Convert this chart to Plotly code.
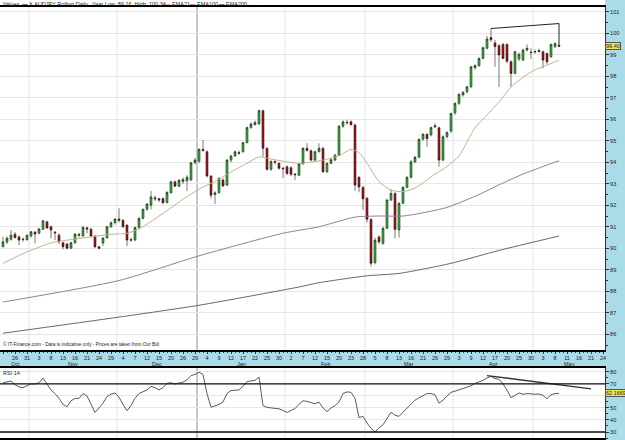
import pandas as pd
import plotly.graph_objects as go

# ---------------- data ----------------
HOLIDAYS = ["2006-12-25", "2007-01-01", "2007-04-06"]
days = [d.strftime("%Y-%m-%d") for d in pd.bdate_range("2006-10-23", "2007-05-24")]
days = [d for d in days if d not in HOLIDAYS]
pos = {d: i for i, d in enumerate(days)}

opens = [90.07, 90.29, 90.42, 90.65, 90.53, 90.40, 90.40, 90.57, 90.75, 90.70,
         90.88, 91.23, 91.00, 90.75, 90.61, 90.26, 90.20, 90.00, 90.26, 90.60,
         90.57, 90.95, 90.89, 90.57, 90.07, 90.25, 90.48, 91.00, 91.19, 91.36,
         91.30, 91.08, 90.40, 90.38, 90.97, 91.39, 91.81, 92.00, 92.35, 92.30,
         92.32, 92.12, 92.58, 93.09, 92.89, 93.10, 93.14, 93.17, 93.98, 94.05,
         94.60, 94.49, 93.36, 92.50, 92.58, 93.17, 92.94, 94.10, 94.29, 94.45,
         94.49, 94.91, 95.62, 95.75, 95.78, 96.40, 94.65, 93.67, 94.03, 93.95,
         93.72, 93.79, 93.75, 93.45, 93.40, 93.92, 94.65, 94.53, 94.10, 94.49,
         94.65, 93.56, 93.95, 94.10, 94.33, 95.68, 95.86, 95.88, 95.73, 93.30,
         92.83, 92.32, 91.34, 89.33, 90.53, 90.23, 90.93, 92.24, 92.55, 90.85,
         92.09, 92.83, 93.30, 94.02, 94.23, 95.07, 95.30, 95.27, 95.70, 95.60,
         94.10, 95.19, 95.45, 96.30, 96.74, 97.13, 97.28, 97.51, 98.40, 98.49,
         98.83, 99.30, 99.80, 99.55, 99.42, 99.48, 99.48, 98.67, 98.13, 98.80,
         98.75, 99.22, 99.12, 99.12, 99.20, 99.14, 99.06, 98.91, 99.37, 99.45]
highs = [90.53, 90.55, 90.85, 90.75, 90.60, 90.50, 90.65, 90.80, 90.80, 90.95,
         91.30, 91.28, 91.05, 90.80, 90.70, 90.30, 90.25, 90.30, 90.70, 90.70,
         91.05, 91.00, 90.95, 90.60, 90.10, 90.50, 91.05, 91.25, 91.40, 91.86,
         91.35, 91.10, 90.50, 91.00, 91.45, 91.85, 92.10, 92.67, 92.45, 92.35,
         92.35, 92.65, 93.15, 93.15, 93.20, 93.30, 93.40, 94.00, 94.20, 94.65,
         95.03, 94.55, 93.40, 92.65, 93.30, 93.25, 94.15, 94.35, 94.55, 94.55,
         94.95, 95.65, 95.85, 95.95, 96.45, 96.45, 94.70, 94.10, 94.10, 94.00,
         93.80, 93.85, 93.80, 93.50, 93.95, 94.70, 94.88, 94.60, 94.55, 94.88,
         94.70, 94.00, 94.20, 94.40, 95.72, 95.95, 95.98, 95.95, 95.80, 93.35,
         92.90, 92.40, 91.40, 90.50, 90.60, 91.00, 92.30, 92.74, 92.60, 92.15,
         92.90, 93.35, 94.10, 94.30, 95.10, 95.35, 95.35, 95.65, 95.81, 95.65,
         95.25, 95.45, 96.30, 96.80, 97.20, 97.30, 97.55, 98.48, 98.55, 98.88,
         99.38, 99.88, 100.22, 99.70, 99.50, 99.55, 99.52, 98.75, 99.20, 99.10,
         99.28, 99.48, 99.30, 99.25, 99.28, 99.20, 99.10, 99.52, 99.58, 99.50]
lows = [90.05, 90.20, 90.35, 90.45, 90.15, 90.30, 90.35, 90.50, 90.23, 90.65,
        90.85, 90.90, 90.46, 90.38, 90.20, 89.95, 89.95, 89.98, 90.20, 90.50,
        90.55, 90.70, 90.50, 90.00, 89.95, 90.10, 90.45, 90.95, 91.10, 91.20,
        90.95, 90.10, 90.30, 90.35, 90.90, 91.35, 91.75, 91.80, 92.20, 92.15,
        92.05, 92.10, 92.55, 92.85, 92.85, 93.00, 92.67, 93.15, 93.90, 93.95,
        94.50, 93.30, 92.32, 92.06, 92.55, 92.85, 92.90, 94.00, 94.25, 94.35,
        94.45, 94.88, 95.55, 95.70, 95.75, 94.26, 93.60, 93.60, 93.90, 93.65,
        93.27, 93.40, 93.35, 93.17, 93.35, 93.90, 94.50, 94.05, 94.05, 94.45,
        93.50, 93.50, 93.90, 94.05, 94.30, 95.60, 95.75, 95.70, 92.67, 92.60,
        91.78, 91.20, 89.16, 89.25, 90.20, 90.15, 90.90, 92.20, 90.46, 90.50,
        92.05, 92.80, 93.25, 93.95, 94.20, 95.00, 94.72, 95.20, 95.60, 93.79,
        94.05, 95.10, 95.35, 96.20, 96.65, 97.05, 97.20, 97.45, 98.30, 98.45,
        98.80, 99.25, 99.60, 98.44, 97.50, 98.80, 98.60, 97.50, 98.10, 98.70,
        98.70, 99.15, 98.80, 99.05, 99.10, 98.37, 98.55, 98.85, 99.30, 99.35]
closes = [90.30, 90.47, 90.61, 90.50, 90.38, 90.42, 90.60, 90.77, 90.66, 90.90,
          91.28, 90.94, 90.85, 90.72, 90.30, 90.07, 90.00, 90.26, 90.66, 90.65,
          90.97, 90.90, 90.57, 90.07, 90.00, 90.48, 91.00, 91.19, 91.36, 91.30,
          91.00, 90.38, 90.38, 90.97, 91.39, 91.81, 92.06, 92.39, 92.30, 92.25,
          92.12, 92.60, 93.09, 92.89, 93.17, 93.20, 93.30, 93.98, 94.10, 94.60,
          94.55, 93.36, 92.47, 92.58, 93.25, 92.90, 94.10, 94.29, 94.49, 94.42,
          94.91, 95.62, 95.78, 95.85, 96.40, 94.65, 93.67, 94.03, 94.00, 93.72,
          93.70, 93.48, 93.44, 93.42, 93.92, 94.65, 94.55, 94.10, 94.49, 94.65,
          93.56, 93.95, 94.12, 94.33, 95.68, 95.88, 95.84, 95.75, 92.94, 92.85,
          92.30, 91.35, 89.30, 90.38, 90.30, 90.93, 92.24, 92.55, 90.88, 92.09,
          92.83, 93.30, 94.02, 94.23, 95.07, 95.30, 95.10, 95.62, 95.65, 94.10,
          95.19, 95.38, 96.27, 96.74, 97.16, 97.25, 97.51, 98.44, 98.50, 98.83,
          99.33, 99.73, 99.70, 99.38, 98.99, 98.83, 98.70, 98.13, 99.14, 99.02,
          99.22, 99.30, 99.10, 99.15, 99.15, 98.75, 98.67, 99.48, 99.52, 99.40]

ema21_days = ["2006-10-23", "2006-10-30", "2006-11-08", "2006-11-20", "2006-11-29",
              "2006-12-05", "2006-12-08", "2006-12-19", "2006-12-27", "2007-01-03",
              "2007-01-08", "2007-01-12", "2007-01-18", "2007-01-23", "2007-01-26",
              "2007-02-06", "2007-02-14", "2007-02-20", "2007-02-23", "2007-02-27",
              "2007-03-01", "2007-03-06", "2007-03-09", "2007-03-14", "2007-03-19",
              "2007-03-21", "2007-03-26", "2007-03-29", "2007-04-03", "2007-04-10",
              "2007-04-13", "2007-04-18", "2007-04-23", "2007-04-26", "2007-05-01",
              "2007-05-04", "2007-05-09"]
ema21_vals = [89.3, 89.75, 90.25, 90.48, 90.65, 90.7, 90.9, 91.75, 92.4, 92.85,
              93.1, 93.55, 93.95, 94.25, 94.15, 93.95, 94.1, 94.3, 94.6, 94.45,
              93.95, 93.1, 92.7, 92.63, 92.8, 93.05, 93.45, 93.8, 94.3, 95.6,
              96.2, 96.8, 97.5, 97.95, 98.3, 98.52, 98.75]

ema100_days = ["2006-10-23", "2006-12-01", "2007-01-02", "2007-01-31", "2007-02-13",
               "2007-02-26", "2007-03-06", "2007-03-14", "2007-03-21", "2007-03-29",
               "2007-04-11", "2007-04-18", "2007-04-26", "2007-05-03", "2007-05-09"]
ema100_vals = [87.5, 88.5, 89.65, 90.7, 91.0, 91.45, 91.5, 91.5, 91.65, 91.9,
               92.5, 92.95, 93.45, 93.8, 94.07]

ema200_days = ["2006-10-23", "2006-12-01", "2007-01-02", "2007-02-06", "2007-02-13",
               "2007-03-01", "2007-03-13", "2007-03-30", "2007-04-18", "2007-05-09"]
ema200_vals = [86.05, 86.8, 87.35, 88.2, 88.4, 88.72, 88.83, 89.3, 89.9, 90.57]

rsi14 = [71, 72, 72.5, 69.5, 67.5, 67, 68.5, 70, 70, 71,
         74.9, 70, 65, 62, 58, 53, 51, 56, 58, 58,
         62, 60, 53, 46.3, 50, 54, 59.5, 61.5, 62.5, 59,
         53, 47.7, 52, 58, 62, 63.5, 65, 68, 67, 65,
         67, 70.5, 71, 70, 70.5, 71.5, 73.5, 76.9, 78, 79.7,
         78, 62, 50.6, 51.5, 53, 55, 62, 64.5, 65, 65,
         68, 72, 72.5, 73, 75.7, 52, 50.5, 50, 49.8, 49.3,
         48, 46.3, 48, 49.5, 53, 56, 55.5, 54.5, 53.5, 54.9,
         50, 47, 50, 52, 55, 62, 63.4, 63, 58, 42,
         43, 37.5, 33, 30, 33.5, 36, 41, 46.5, 44, 43,
         46.5, 50, 53.5, 56.5, 58.5, 60.5, 62, 62, 61, 54,
         56.5, 60, 63, 64, 65, 66, 67, 68.5, 70.5, 71.5,
         73, 75, 76.3, 74.5, 74, 70, 65, 58.5, 60.5, 62.5,
         61.4, 62, 61.8, 61.4, 61.7, 60.5, 57.7, 61, 62, 62.17]

trend_days = ["2007-04-16", "2007-05-09", "2007-05-09"]
trend_vals = [100.22, 100.45, 99.5]
rsi_trend_days = ["2007-04-13", "2007-05-21"]
rsi_trend_vals = [77.0, 66.0]

month_names = ["Oct", "Nov", "Dec", "Jan", "Feb", "Mar", "Apr", "May"]
month_keys = ["2006-10", "2006-11", "2006-12", "2007-01", "2007-02", "2007-03", "2007-04", "2007-05"]

rsi_ticks = [30, 40, 50, 60, 70, 80]
rsi_ticktext = ["30", "40", "50", "", "70", "80"]   # 60 is hidden under the value box

last_price_label = "99.40"
last_rsi_label = "62.1669"

# ---------------- figure ----------------
W, H = 625, 440
ML, MR, MT, MB = 0, 20, 7, 2
PH = H - MT - MB
def fy(py):
    return (H - MB - py) / PH

BAND = "#a9dbe8"
FONT = "Liberation Sans"

cx = list(range(len(opens)))

fig = go.Figure()
fig.add_trace(go.Candlestick(
    x=cx, open=opens, high=highs, low=lows, close=closes,
    increasing=dict(fillcolor="#35b535", line=dict(color="#1e2a1e", width=0.6)),
    decreasing=dict(fillcolor="#a81414", line=dict(color="#2a1515", width=0.6)),
    whiskerwidth=0, showlegend=False, hoverinfo="skip", xaxis="x", yaxis="y"))

for dlist, vals, col in [(ema21_days, ema21_vals, "#c9ae8e"),
                         (ema100_days, ema100_vals, "#9c7a9e"),
                         (ema200_days, ema200_vals, "#6f6178")]:
    fig.add_trace(go.Scatter(x=[pos[d] for d in dlist], y=vals, mode="lines",
                             line=dict(color=col, width=1, shape="spline", smoothing=0.6),
                             showlegend=False, hoverinfo="skip", xaxis="x", yaxis="y"))

fig.add_trace(go.Scatter(x=[pos[d] for d in trend_days], y=trend_vals, mode="lines",
                         line=dict(color="#222", width=1), showlegend=False,
                         hoverinfo="skip", xaxis="x", yaxis="y"))

fig.add_trace(go.Scatter(x=list(range(len(rsi14))), y=rsi14, mode="lines",
                         line=dict(color="#5a5a5a", width=1), showlegend=False,
                         hoverinfo="skip", xaxis="x2", yaxis="y2"))
fig.add_trace(go.Scatter(x=[pos[d] for d in rsi_trend_days], y=rsi_trend_vals, mode="lines",
                         line=dict(color="#333", width=1.3), showlegend=False,
                         hoverinfo="skip", xaxis="x2", yaxis="y2"))

# ticks: every 3rd trading day
tick_days = days[::3]
tickvals = [pos[d] for d in tick_days]
ticktext = [str(int(d[8:])) for d in tick_days]

main_dom = [fy(350), 1]
rsi_dom = [0, fy(368)]
xr = [-0.75, 150.5]

fig.update_layout(
    width=W, height=H, margin=dict(l=ML, r=MR, t=MT, b=MB, pad=0),
    paper_bgcolor=BAND, plot_bgcolor="white",
    font=dict(family=FONT, size=6, color="#222"),
    xaxis=dict(domain=[0, 1], range=xr, anchor="y", tickmode="array", tickvals=tickvals,
               ticktext=ticktext, ticks="outside", ticklen=2, tickcolor="#333",
               tickfont=dict(size=5.5, color="#222"), showgrid=False, zeroline=False,
               showline=True, linecolor="black", linewidth=1.5, mirror=True,
               rangeslider=dict(visible=False),
               minor=dict(tickmode="linear", tick0=0, dtick=1, ticks="outside",
                          ticklen=1.5, tickcolor="#444", showgrid=False)),
    yaxis=dict(domain=main_dom, range=[85.27, 101.22], side="right", anchor="x",
               tickmode="linear", tick0=0, dtick=1, ticks="outside", ticklen=3,
               tickcolor="#333", tickfont=dict(size=5.5, color="#222"),
               showgrid=True, gridcolor="#e6e6e6", gridwidth=1, zeroline=False,
               showline=True, linecolor="#333", linewidth=1,
               minor=dict(tickmode="linear", tick0=0.5, dtick=1, ticks="outside",
                          ticklen=2, tickcolor="#333", showgrid=False)),
    xaxis2=dict(domain=[0, 1], range=xr, anchor="y2", matches="x", showticklabels=False,
                ticks="", showgrid=False, zeroline=False, showline=True,
                linecolor="black", linewidth=1.5, mirror=True),
    yaxis2=dict(domain=rsi_dom, range=[25, 83.3], side="right", anchor="x2",
                tickmode="array", tickvals=rsi_ticks, ticktext=rsi_ticktext,
                ticks="outside", ticklen=3, tickcolor="#333",
                tickfont=dict(size=5.5, color="#222"),
                showgrid=True, gridcolor="#e6e6e6", zeroline=False,
                showline=True, linecolor="#333", linewidth=1,
                minor=dict(tickmode="linear", tick0=35, dtick=10, ticks="outside",
                           ticklen=2, tickcolor="#333", showgrid=False)),
)

shapes = []
# white strip behind legend text
shapes.append(dict(type="rect", xref="paper", yref="paper", x0=0, x1=1,
                   y0=1, y1=1 + MT / PH + 0.01, fillcolor="white", line=dict(width=0),
                   layer="below"))
# month boundary grid lines
month_starts = []
for k in month_keys[1:]:
    first = [d for d in days if d.startswith(k)][0]
    month_starts.append(first)
for d in month_starts:
    is_year = d.startswith("2007-01")
    col = "#b4b4b4" if is_year else "#e2e2e2"
    wid = 1.5 if is_year else 1
    for yr in ["y domain", "y2 domain"]:
        xx = "x" if yr.startswith("y ") else "x2"
        shapes.append(dict(type="line", xref=xx, yref=yr, x0=pos[d] - 0.5, x1=pos[d] - 0.5,
                           y0=0, y1=1, line=dict(color=col, width=wid), layer="below"))
# RSI 70 / 30 lines
for lvl in [70, 30]:
    shapes.append(dict(type="line", xref="x2 domain", yref="y2", x0=0, x1=1, y0=lvl, y1=lvl,
                       line=dict(color="#111", width=1.3), layer="above"))
fig.update_layout(shapes=shapes)

ann = []
# month labels centred in their spans
for name, k in zip(month_names, month_keys):
    idxs = [pos[d] for d in days if d.startswith(k)]
    ann.append(dict(x=(idxs[0] + idxs[-1]) / 2, xref="x", y=fy(363.5), yref="paper",
                    text=name, showarrow=False, font=dict(size=5.5, color="#222"),
                    xanchor="center", yanchor="middle"))
# legend pieces
leg = [(1, "Values", "#222"),
       (20, "<b>—</b> X.AUDJPY Rolling Daily", "#222"),
       (90, "Year Low: 89.16  High: 100.34", "#222"),
       (163, "<span style='color:#d08c3c'><b>—</b></span> EMA21", "#222"),
       (188, "<span style='color:#a0409e'><b>—</b></span> EMA100", "#222"),
       (217, "<span style='color:#333'><b>—</b></span> EMA200", "#222")]
for px, t, c in leg:
    ann.append(dict(x=px / (W - MR), xref="paper", y=fy(3.5), yref="paper", text=t,
                    showarrow=False, font=dict(size=5.5, color=c),
                    xanchor="left", yanchor="middle"))
ann.append(dict(x=0.001, xref="paper", y=fy(343.5), yref="paper",
                text="© IT-Finance.com - Data is indicative only - Prices are taken from Our Bid",
                showarrow=False, font=dict(size=4.8, color="#222"),
                xanchor="left", yanchor="middle"))
ann.append(dict(x=0.001, xref="paper", y=fy(373), yref="paper", text="RSI 14",
                showarrow=False, font=dict(size=5.5, color="#222"),
                xanchor="left", yanchor="middle"))
ann.append(dict(x=1, xref="paper", y=closes[-1], yref="y", text=last_price_label,
                showarrow=False, font=dict(size=5.5, color="#222"), bgcolor="#f2e35c",
                bordercolor="#555", borderwidth=1, borderpad=0,
                xanchor="left", yanchor="middle"))
ann.append(dict(x=1, xref="paper", y=rsi14[-1], yref="y2", text=last_rsi_label,
                showarrow=False, font=dict(size=5.5, color="#222"), bgcolor="#f2e35c",
                bordercolor="#555", borderwidth=1, borderpad=0,
                xanchor="left", yanchor="middle"))
fig.update_layout(annotations=ann)

fig.write_html("out.html")
